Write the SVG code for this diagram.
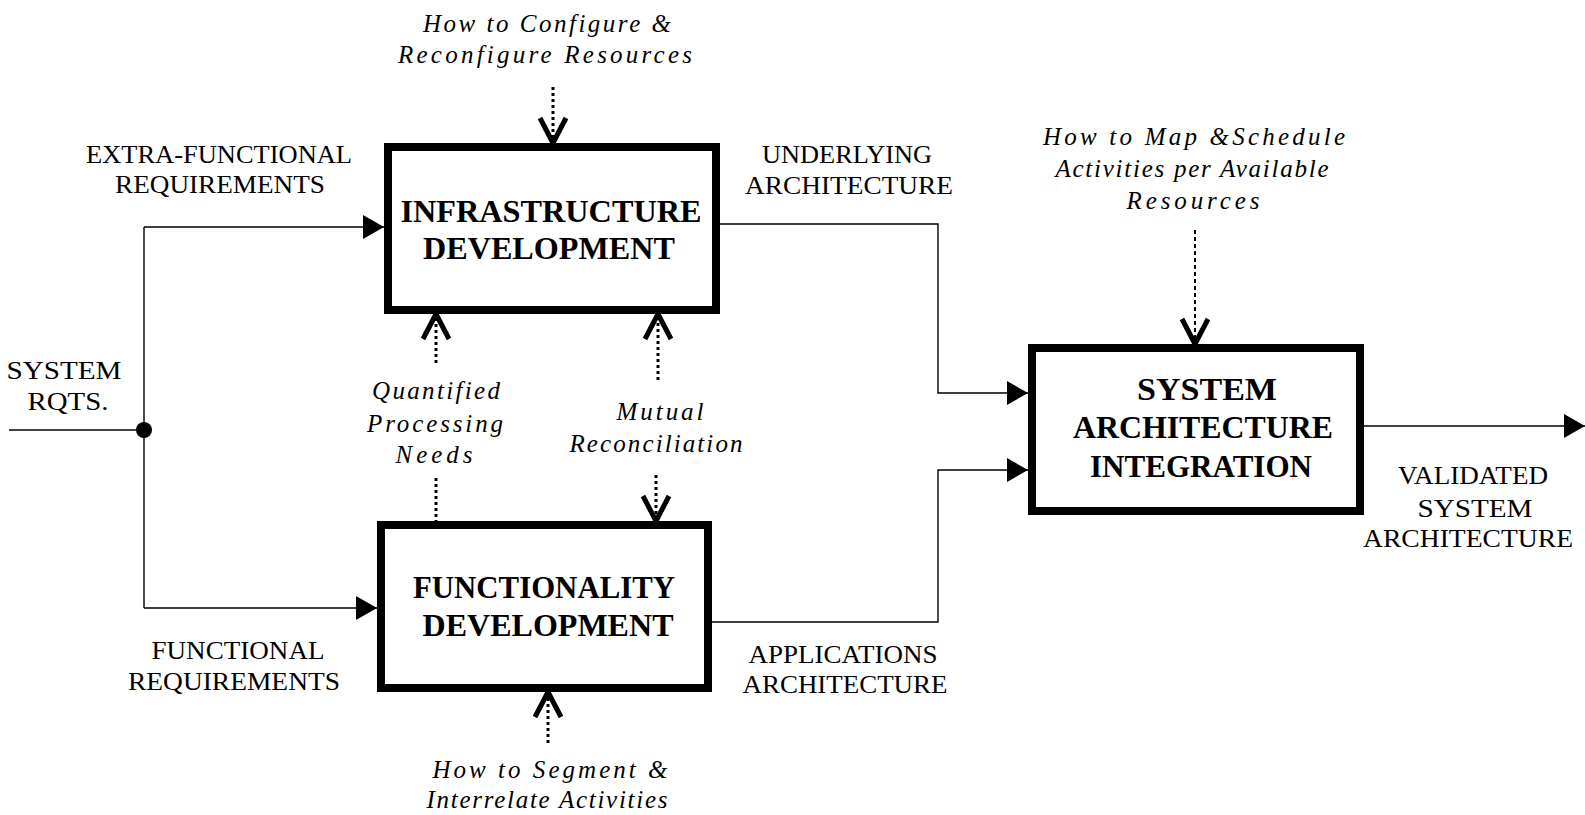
<svg xmlns="http://www.w3.org/2000/svg" width="1585" height="815" viewBox="0 0 1585 815">
<style>
text{font-family:"Liberation Serif","Times New Roman",serif;fill:#000;text-anchor:middle}
.it{font-style:italic;font-size:25px}
.up{font-size:26px}
.bd{font-weight:bold;font-size:32px}
.box{fill:#fff;stroke:#000;stroke-width:8}
.ln{fill:none;stroke:#000;stroke-width:1.4}
.dot{fill:none;stroke:#000;stroke-width:3;stroke-dasharray:3 3}
.dash{fill:none;stroke:#000;stroke-width:2;stroke-dasharray:4 3}
</style>
<defs>
<marker id="fa" markerUnits="userSpaceOnUse" markerWidth="22" markerHeight="24" refX="21" refY="12" orient="auto" overflow="visible">
<path d="M0,0 L21,12 L0,24 z" fill="#000"/>
</marker>
<marker id="va" markerUnits="userSpaceOnUse" markerWidth="26" markerHeight="28" refX="25" refY="13" orient="auto" overflow="visible">
<path d="M0,0 L25,13 L0,26" fill="none" stroke="#000" stroke-width="5" stroke-linejoin="round"/>
</marker>
</defs>
<rect width="1585" height="815" fill="#fff"/>

<g id="connectors">
<path class="ln" d="M9,430 H144"/>
<circle cx="144" cy="430" r="8" fill="#000"/>
<path class="ln" d="M144,227 V608"/>
<path class="ln" d="M144,227 H384" marker-end="url(#fa)"/>
<path class="ln" d="M144,608 H377" marker-end="url(#fa)"/>
<path class="ln" d="M720,224 H938 V393 H1028" marker-end="url(#fa)"/>
<path class="ln" d="M712,622 H938 V470 H1028" marker-end="url(#fa)"/>
<path class="ln" d="M1364,426 H1585" marker-end="url(#fa)"/>
<path class="dot" d="M553,87 V143" marker-end="url(#va)"/>
<path class="dot" d="M436,363 V314" marker-end="url(#va)"/>
<path class="dot" d="M658,380 V314" marker-end="url(#va)"/>
<path class="dot" d="M656,475 V521" marker-end="url(#va)"/>
<path class="dot" d="M436,478 V521"/>
<path class="dot" d="M548,743 V692" marker-end="url(#va)"/>
<path class="dash" d="M1195,230 V344" marker-end="url(#va)"/>
</g>

<g id="node-infrastructure">
<rect class="box" x="388" y="147" width="328" height="163"/>
<text class="bd" x="551" y="222" textLength="301" lengthAdjust="spacingAndGlyphs">INFRASTRUCTURE</text>
<text class="bd" x="549" y="259" textLength="252" lengthAdjust="spacingAndGlyphs">DEVELOPMENT</text>
</g>

<g id="node-functionality">
<rect class="box" x="381" y="525" width="327" height="163"/>
<text class="bd" x="544" y="598" textLength="262" lengthAdjust="spacingAndGlyphs">FUNCTIONALITY</text>
<text class="bd" x="548" y="636" textLength="251" lengthAdjust="spacingAndGlyphs">DEVELOPMENT</text>
</g>

<g id="node-integration">
<rect class="box" x="1032" y="348" width="328" height="163"/>
<text class="bd" x="1207" y="400" textLength="140" lengthAdjust="spacingAndGlyphs">SYSTEM</text>
<text class="bd" x="1203" y="438" textLength="260" lengthAdjust="spacingAndGlyphs">ARCHITECTURE</text>
<text class="bd" x="1201" y="477" textLength="222" lengthAdjust="spacingAndGlyphs">INTEGRATION</text>
</g>

<g id="labels">
<text class="it" x="547" y="32" textLength="248" lengthAdjust="spacing">How to Configure &amp;</text>
<text class="it" x="545" y="63" textLength="294" lengthAdjust="spacing">Reconfigure Resources</text>
<text class="it" x="436" y="399" textLength="128" lengthAdjust="spacing">Quantified</text>
<text class="it" x="435" y="432" textLength="136" lengthAdjust="spacing">Processing</text>
<text class="it" x="434" y="463" textLength="77" lengthAdjust="spacing">Needs</text>
<text class="it" x="660" y="420" textLength="87" lengthAdjust="spacing">Mutual</text>
<text class="it" x="656" y="452" textLength="173" lengthAdjust="spacing">Reconciliation</text>
<text class="it" x="550" y="778" textLength="235" lengthAdjust="spacing">How to Segment &amp;</text>
<text class="it" x="547" y="808" textLength="241" lengthAdjust="spacing">Interrelate Activities</text>
<text class="it" x="1194" y="145" textLength="302" lengthAdjust="spacing">How to Map &amp;Schedule</text>
<text class="it" x="1192" y="177" textLength="273" lengthAdjust="spacing">Activities per Available</text>
<text class="it" x="1193" y="209" textLength="133" lengthAdjust="spacing">Resources</text>

<text class="up" x="219" y="163" textLength="266" lengthAdjust="spacingAndGlyphs">EXTRA-FUNCTIONAL</text>
<text class="up" x="220" y="193" textLength="210" lengthAdjust="spacingAndGlyphs">REQUIREMENTS</text>
<text class="up" x="64" y="379" textLength="115" lengthAdjust="spacingAndGlyphs">SYSTEM</text>
<text class="up" x="68" y="410" textLength="81" lengthAdjust="spacingAndGlyphs">RQTS.</text>
<text class="up" x="238" y="659" textLength="173" lengthAdjust="spacingAndGlyphs">FUNCTIONAL</text>
<text class="up" x="234" y="690" textLength="212" lengthAdjust="spacingAndGlyphs">REQUIREMENTS</text>
<text class="up" x="847" y="163" textLength="170" lengthAdjust="spacingAndGlyphs">UNDERLYING</text>
<text class="up" x="849" y="194" textLength="208" lengthAdjust="spacingAndGlyphs">ARCHITECTURE</text>
<text class="up" x="843" y="663" textLength="189" lengthAdjust="spacingAndGlyphs">APPLICATIONS</text>
<text class="up" x="845" y="693" textLength="205" lengthAdjust="spacingAndGlyphs">ARCHITECTURE</text>
<text class="up" x="1473" y="484" textLength="150" lengthAdjust="spacingAndGlyphs">VALIDATED</text>
<text class="up" x="1475" y="517" textLength="115" lengthAdjust="spacingAndGlyphs">SYSTEM</text>
<text class="up" x="1468" y="547" textLength="210" lengthAdjust="spacingAndGlyphs">ARCHITECTURE</text>
</g>
</svg>
